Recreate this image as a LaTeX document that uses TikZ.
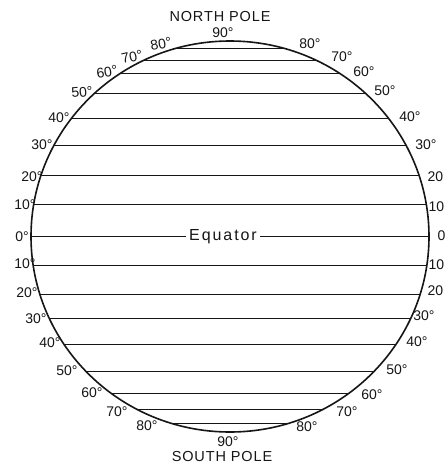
\documentclass[tikz,border=0pt]{standalone}
\usepackage{fontspec}
\setmainfont{Liberation Sans}
\usepackage{xcolor}
\usepackage{tikz}
\usetikzlibrary{positioning}
\definecolor{globe@ink}{RGB}{22,22,22}
\tikzset{
  globe/.style={
    x=1pt, y=-1pt,
    line width=1.1pt,
    every node/.style={text=globe@ink}
  },
  rim/.style={draw=globe@ink, line width=1.6pt},      % outline of the globe
  parallel/.style={draw=globe@ink, line width=1.5pt}, % line of latitude
  deglabel/.style={
    inner sep=0pt,
    font=\fontsize{14}{15}\selectfont
  },
  polelabel/.style={
    inner sep=0pt,
    font=\fontsize{14.5}{16}\selectfont\addfontfeatures{LetterSpace=6}
  },
  eqlabel/.style={
    inner xsep=3pt, inner ysep=0pt,
    font=\fontsize{16}{18}\selectfont\addfontfeatures{LetterSpace=12}
  }
}

\begin{document}
\begin{tikzpicture}[globe]
\clip (0,0) rectangle (445,466);
\fill[white] (0,0) rectangle (445,466);

\coordinate (c) at (230,236.5);
\draw[rim] (c) ellipse [x radius=199, y radius=195.5];

% parallels, measured offsets from the equator
\foreach \dy in {32,61,91,118,143,163,176,188,-29,-58,-82,-108,-135,-157,-173,-187}{
  \pgfmathsetmacro\hw{199*sqrt(1-(\dy/195.5)^2)}
  \draw[parallel] ([shift={(-\hw,-\dy)}]c) -- ([shift={(\hw,-\dy)}]c);
}

\node[eqlabel] (eq) at (223,236.5) {Equator};
\draw[parallel] ([xshift=-199pt]c) -- (eq.west);
\draw[parallel] (eq.east) -- ([xshift=199pt]c);

% degree marks, left side
\foreach \lat/\x/\y/\r in {80/161/44/10, 70/132/57/12, 60/107/72/9, 50/82/92/5,
                           40/59/118/0, 30/42/145/0, 20/32/177/0, 10/25/205/0}
  \node[deglabel, rotate=\r] (nw\lat) at (\x,\y) {\lat°};
\node[deglabel] (w0) at (22,237) {0°};
\foreach \lat/\x/\y in {10/25/264, 20/27/293, 30/36/319, 40/50/343,
                        50/67/371, 60/92/393, 70/117/412, 80/147/426}
  \node[deglabel] (sw\lat) at (\x,\y) {\lat°};

% degree marks, right side
\foreach \lat/\x/\y in {80/310/44, 70/342/57, 60/364/72, 50/385/91, 40/410/117, 30/426/145}
  \node[deglabel] (ne\lat) at (\x,\y) {\lat°};
\node[deglabel, anchor=west] (ne20) at (427,177) {20};
\node[deglabel, anchor=west] (ne10) at (428,207) {10};
\node[deglabel, anchor=west] (e0)   at (437,236) {0};
\node[deglabel, anchor=west] (se10) at (428,265) {10};
\node[deglabel, anchor=west] (se20) at (427,291) {20};
\foreach \lat/\x/\y in {30/424/316, 40/417/342, 50/397/370, 60/372/395, 70/347/412, 80/307/427}
  \node[deglabel] (se\lat) at (\x,\y) {\lat°};

% poles
\node[deglabel] (n90) at (223,33)  {90°};
\node[deglabel] (s90) at (228,442) {90°};
\node[polelabel, above=5.5pt of n90, xshift=-3pt] (north) {NORTH POLE};
\node[polelabel, below=3.5pt of s90, xshift=-6pt] (south) {SOUTH POLE};

\end{tikzpicture}
\end{document}
